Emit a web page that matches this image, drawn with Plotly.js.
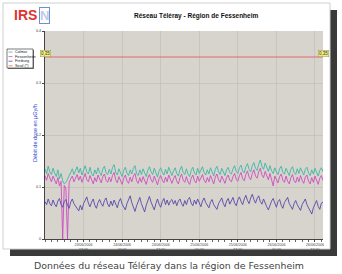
<!DOCTYPE html>
<html>
<head>
<meta charset="utf-8">
<script src="https://cdn.plot.ly/plotly-3.0.1.min.js"></script>
<style>
html,body{margin:0;padding:0;background:#fff;}
#chart{width:342px;height:274px;}
</style>
</head>
<body>
<div id="chart"></div>
<script>
// ---- data ----
var startTime = "2006-06-23T00:00:00Z";
var stepMinutes = 30;
var seriesNames = ["Colmar", "Fessenheim", "Freiburg", "Seuil (*)"];
var seriesColors = ["#3fb5a5", "#cf4cbf", "#564aa8", "#e36b6b"];

var colmar = [
0.135,0.126,0.140,0.129,0.124,0.136,0.127,0.120,0.133,0.116,0.126,0.112,0.106,0.109,0.115,0.121,0.130,0.135,0.124,0.133,
0.139,0.127,0.136,0.123,0.134,0.141,0.129,0.125,0.138,0.126,0.121,0.133,0.125,0.137,0.128,0.122,0.135,0.140,0.127,0.124,
0.134,0.125,0.137,0.143,0.128,0.123,0.135,0.126,0.120,0.132,0.138,0.127,0.122,0.133,0.125,0.136,0.141,0.126,0.122,0.133,
0.124,0.135,0.127,0.120,0.132,0.139,0.129,0.124,0.136,0.126,0.119,0.131,0.137,0.128,0.123,0.134,0.125,0.138,0.129,0.122,
0.131,0.137,0.126,0.121,0.133,0.140,0.128,0.124,0.135,0.125,0.120,0.132,0.138,0.127,0.123,0.136,0.126,0.134,0.139,0.128,
0.123,0.133,0.125,0.137,0.127,0.121,0.134,0.140,0.129,0.124,0.136,0.127,0.122,0.133,0.138,0.128,0.125,0.135,0.141,0.130,
0.126,0.137,0.142,0.131,0.127,0.139,0.145,0.134,0.129,0.141,0.147,0.136,0.132,0.144,0.152,0.139,0.134,0.146,0.136,0.130,
0.141,0.131,0.126,0.137,0.129,0.124,0.135,0.140,0.128,0.125,0.136,0.127,0.122,0.134,0.139,0.128,0.124,0.135,0.126,0.137,
0.128,0.123,0.134,0.138,0.127,0.122,0.133,0.125,0.136,0.127,0.121,0.132,0.137,0.129];

var fessenheim = [
0.121,0.113,0.126,0.116,0.110,0.121,0.112,0.106,0.118,0.102,0.111,0,0.103,0.098,0,0.108,0.116,0.121,0.110,0.119,
0.124,0.113,0.121,0.109,0.119,0.126,0.114,0.110,0.122,0.112,0.106,0.118,0.110,0.123,0.115,0.108,0.120,0.125,0.113,0.109,
0.119,0.110,0.122,0.128,0.114,0.108,0.120,0.111,0.105,0.117,0.123,0.112,0.107,0.119,0.110,0.121,0.126,0.112,0.107,0.118,
0.109,0.120,0.112,0.105,0.117,0.124,0.114,0.109,0.121,0.111,0.104,0.116,0.122,0.113,0.108,0.119,0.110,0.123,0.114,0.107,
0.116,0.122,0.111,0.106,0.118,0.125,0.113,0.109,0.120,0.110,0.105,0.117,0.123,0.112,0.108,0.121,0.111,0.119,0.124,0.113,
0.108,0.118,0.110,0.122,0.112,0.106,0.119,0.125,0.114,0.109,0.121,0.112,0.107,0.118,0.123,0.113,0.110,0.120,0.126,0.115,
0.111,0.122,0.128,0.116,0.112,0.124,0.131,0.119,0.114,0.126,0.133,0.121,0.117,0.129,0.136,0.123,0.118,0.130,0.120,0.114,
0.126,0.115,0.102,0.121,0.113,0.108,0.120,0.125,0.113,0.109,0.121,0.111,0.106,0.118,0.124,0.112,0.108,0.119,0.110,0.122,
0.113,0.107,0.119,0.123,0.111,0.106,0.118,0.109,0.121,0.111,0.105,0.117,0.122,0.112];

var freiburg = [
0.072,0.066,0.077,0.068,0.064,0.075,0.067,0.062,0.073,0.078,0.066,0.061,0.072,0.076,0.065,0.059,0.071,0.077,0.068,0.063,
0.058,0.054,0.065,0.056,0.068,0.074,0.081,0.069,0.062,0.071,0.077,0.065,0.059,0.070,0.076,0.068,0.063,0.074,0.079,0.067,
0.062,0.073,0.064,0.075,0.066,0.060,0.072,0.078,0.067,0.062,0.056,0.068,0.076,0.083,0.070,0.061,0.053,0.064,0.073,0.080,
0.068,0.059,0.052,0.065,0.074,0.082,0.071,0.063,0.056,0.068,0.077,0.067,0.061,0.072,0.078,0.066,0.075,0.065,0.073,0.076,
0.067,0.074,0.064,0.073,0.077,0.068,0.063,0.074,0.066,0.076,0.080,0.069,0.064,0.075,0.067,0.077,0.068,0.062,0.073,0.079,
0.070,0.065,0.060,0.071,0.076,0.066,0.061,0.057,0.068,0.074,0.079,0.068,0.062,0.073,0.078,0.067,0.075,0.080,0.069,0.064,
0.075,0.081,0.072,0.066,0.077,0.084,0.074,0.068,0.079,0.086,0.076,0.069,0.078,0.083,0.072,0.067,0.077,0.068,0.062,0.056,
0.067,0.073,0.078,0.067,0.061,0.072,0.076,0.065,0.059,0.070,0.075,0.080,0.068,0.062,0.057,0.068,0.074,0.066,0.060,0.055,
0.066,0.072,0.077,0.066,0.059,0.053,0.048,0.060,0.068,0.074,0.063,0.057,0.069,0.071];

var seuilValue = 0.35;
var seuilLabel = "0,35";

var xRange = ["2006-06-23 00:00", "2006-06-26 14:30"];
var xTickVals = ["2006-06-23 12:00","2006-06-24 00:00","2006-06-24 12:00","2006-06-25 00:00","2006-06-25 12:00","2006-06-26 00:00","2006-06-26 12:00"];
var xTickText = ["23/06/2006<br>12:00","24/06/2006<br>00:00","24/06/2006<br>12:00","25/06/2006<br>00:00","25/06/2006<br>12:00","26/06/2006<br>00:00","26/06/2006<br>12:00"];
var yTickVals = [0, 0.1, 0.2, 0.3, 0.4];
var yTickText = ["0", "0.1", "0.2", "0.3", "0.4"];

var chartTitle = "Réseau Téléray - Région de Fessenheim";
var yTitle = "Débit de dose en µGy/h";
var caption = "Données du réseau Téléray dans la région de Fessenheim";

// ---- build ----
function pad(n){return (n<10?"0":"")+n;}
var t0 = Date.parse(startTime);
var times = colmar.map(function(_, i){
  var d = new Date(t0 + i*stepMinutes*60000);
  return d.getUTCFullYear()+"-"+pad(d.getUTCMonth()+1)+"-"+pad(d.getUTCDate())+" "+pad(d.getUTCHours())+":"+pad(d.getUTCMinutes());
});

var seriesData = [colmar, fessenheim, freiburg];
var traces = seriesData.map(function(vals, k){
  return {x: times, y: vals, type: "scatter", mode: "lines", name: seriesNames[k],
          line: {color: seriesColors[k], width: 0.9}, hoverinfo: "skip"};
});
traces.push({x: [times[0], times[times.length-1]], y: [seuilValue, seuilValue], type: "scatter",
  mode: "lines", name: seriesNames[3], line: {color: seriesColors[3], width: 1}, hoverinfo: "skip"});

// pixel helpers for decorations (plot area: x 45..323, y 31..239)
var L = 45, R = 19, T = 31, B = 35, W = 342, H = 274;
var pw = W - L - R, ph = H - T - B;
function px(x){return (x - L)/pw;}
function py(y){return (H - B - y)/ph;}

var shapes = [
  {type:"rect", xref:"paper", yref:"paper", x0:px(10), x1:px(337), y0:py(256), y1:py(10), fillcolor:"#3a3a3a", line:{width:0}, layer:"below"},
  {type:"rect", xref:"paper", yref:"paper", x0:px(3), x1:px(330), y0:py(249), y1:py(3), fillcolor:"#ffffff", line:{color:"#cfcfcf", width:1}, layer:"below"},
  {type:"rect", xref:"paper", yref:"paper", x0:0, x1:1, y0:0, y1:1, fillcolor:"#d7d4ce", line:{width:0}, layer:"below"},
  {type:"rect", xref:"paper", yref:"paper", x0:px(8), x1:px(34), y0:py(69), y1:py(50), fillcolor:"#777", line:{width:0}},
  {type:"rect", xref:"paper", yref:"paper", x0:px(7), x1:px(33), y0:py(68), y1:py(49), fillcolor:"#ffffff", line:{color:"#222", width:0.6}}
];
var annotations = [
  {xref:"paper", yref:"paper", x:px(12), y:py(15), xanchor:"left", yanchor:"middle", showarrow:false,
   text:"<b>IRS</b>", font:{family:"Liberation Sans, Arial", size:14, color:"#e0322f"}},
  {xref:"paper", yref:"paper", x:px(39), y:py(15), xanchor:"left", yanchor:"middle", showarrow:false,
   text:"<b>N</b>", font:{family:"Liberation Sans, Arial", size:13, color:"#b9cce8"}, bordercolor:"#6f8fcf", borderwidth:1, borderpad:0},
  {xref:"paper", yref:"paper", x:px(196), y:py(16), xanchor:"center", yanchor:"middle", showarrow:false,
   text:"<b>"+chartTitle+"</b>", font:{family:"Liberation Sans, Arial", size:6.5, color:"#111"}},
  {xref:"paper", yref:"paper", x:px(169), y:py(265), xanchor:"center", yanchor:"middle", showarrow:false,
   text:caption, font:{family:"DejaVu Sans", size:9.4, color:"#444"}},
  {xref:"paper", yref:"paper", x:px(35), y:py(133), xanchor:"center", yanchor:"middle", showarrow:false, textangle:-90,
   text:yTitle, font:{family:"Liberation Sans, Arial", size:5.5, color:"#2a3fd0"}},
  {xref:"paper", yref:"y", x:0, y:seuilValue, yshift:4, xanchor:"center", yanchor:"middle", showarrow:false,
   text:seuilLabel, font:{family:"Liberation Sans, Arial", size:4.5, color:"#333"}, bgcolor:"#eeee88", bordercolor:"#999944", borderwidth:0.5, borderpad:0.5},
  {xref:"paper", yref:"y", x:1, y:seuilValue, yshift:4, xanchor:"center", yanchor:"middle", showarrow:false,
   text:seuilLabel, font:{family:"Liberation Sans, Arial", size:4.5, color:"#333"}, bgcolor:"#eeee88", bordercolor:"#999944", borderwidth:0.5, borderpad:0.5}
];
seriesNames.forEach(function(nm, k){
  var yy = 52 + k*4.6;
  shapes.push({type:"line", xref:"paper", yref:"paper", x0:px(8.5), x1:px(12.5), y0:py(yy), y1:py(yy), line:{color:seriesColors[k], width:0.8}});
  annotations.push({xref:"paper", yref:"paper", x:px(13.3), y:py(yy), xanchor:"left", yanchor:"middle", showarrow:false,
    text:nm, font:{family:"Liberation Sans, Arial", size:3.8, color:"#222"}});
});

var layout = {
  width: W, height: H,
  margin: {l:L, r:R, t:T, b:B, pad:0},
  paper_bgcolor: "#ffffff",
  plot_bgcolor: "#d7d4ce",
  showlegend: false,
  font: {family:"Liberation Sans, Arial", size:4, color:"#444"},
  xaxis: {type:"date", range: xRange, tickvals: xTickVals, ticktext: xTickText,
          showgrid:true, gridcolor:"#c2bfb8", gridwidth:0.7, zeroline:false,
          showline:true, linecolor:"#444", linewidth:1, ticks:"outside", ticklen:2, tickcolor:"#444",
          tickfont:{size:3.6, color:"#444"}, fixedrange:true,
          minor:{ticks:"outside", ticklen:1.5, tickcolor:"#666", dtick:7200000, showgrid:false}},
  yaxis: {range:[0,0.4], tickvals:yTickVals, ticktext:yTickText,
          showgrid:true, gridcolor:"#c2bfb8", gridwidth:0.7, zeroline:false,
          showline:true, linecolor:"#444", linewidth:1, ticks:"outside", ticklen:2, tickcolor:"#444",
          tickfont:{size:3.8, color:"#444"}, fixedrange:true},
  shapes: shapes,
  annotations: annotations
};

Plotly.newPlot("chart", traces, layout, {displayModeBar:false, staticPlot:true});
</script>
</body>
</html>
